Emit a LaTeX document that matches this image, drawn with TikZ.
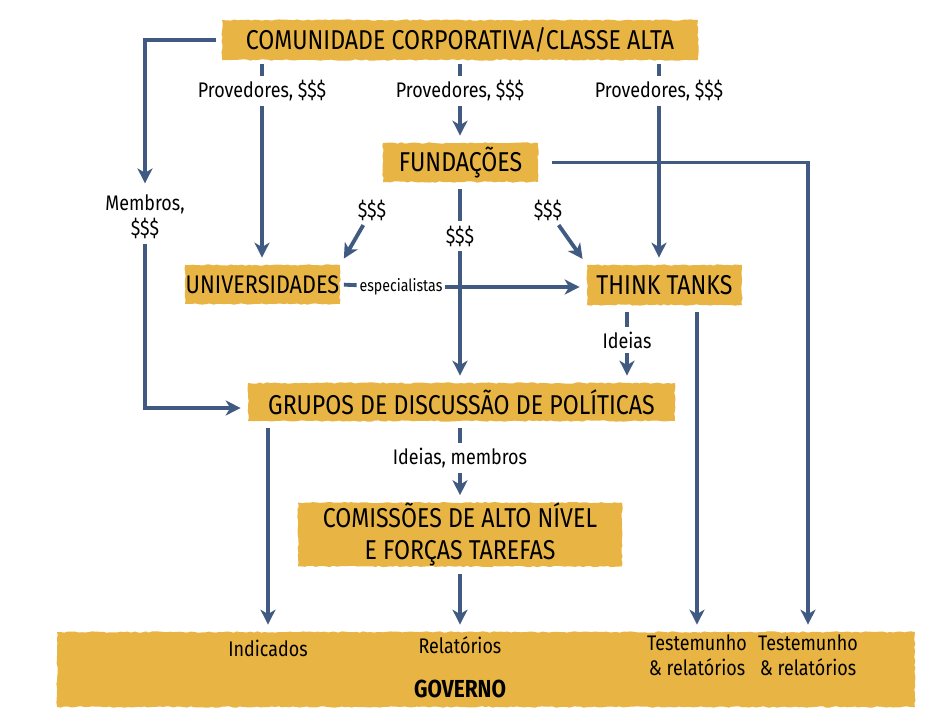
\documentclass[tikz,border=0pt]{standalone}
\usepackage{fontspec}
\setmainfont{Fira Sans}[FakeStretch=0.85]
\usepackage{tikz}
\usetikzlibrary{arrows.meta, positioning, calc, decorations.pathmorphing}

\definecolor{boxgold}{RGB}{232,180,67}
\definecolor{flowblue}{RGB}{64,90,130}

\begin{document}
\begin{tikzpicture}
            [x=0.02cm, y=-0.02cm,
            >={Stealth[length=8.5pt, width=8.5pt, inset=2.5pt]},
            box/.style={rectangle, fill=boxgold, inner sep=0pt, align=center,
                font=\fontsize{15.5}{18.5}\selectfont,
                decorate, decoration={random steps, segment length=2pt, amplitude=0.4pt}},
            lbl/.style={inner sep=2.5pt, align=center, font=\fontsize{12}{14}\selectfont},
            flow/.style={draw=flowblue, line width=2.2pt},
            arr/.style={flow, ->, shorten >=4pt}]
            \useasboundingbox (0,0) rectangle (950,725);

            \node[box, minimum width=17.16cm, minimum height=1.5cm]  (gov)    at (486,669.5) {};
            \node[box, minimum width=9.52cm, minimum height=0.8cm]   (com)    at (460,40)    {COMUNIDADE CORPORATIVA/CLASSE ALTA};
            \node[box, minimum width=3.1cm, minimum height=0.78cm]   (fund)   at (460.5,162.5) {FUNDAÇÕES};
            \node[box, minimum width=3.1cm, minimum height=0.78cm, font=\fontsize{14.5}{17}\selectfont]   (univ)   at (262.5,284.5) {UNIVERSIDADES};
            \node[box, minimum width=3.1cm, minimum height=0.8cm]    (tt)     at (664.5,285) {THINK TANKS};
            \node[box, minimum width=8.54cm, minimum height=0.76cm]  (grupos) at (461.5,402) {GRUPOS DE DISCUSSÃO DE POLÍTICAS};
            \node[box, minimum width=6.48cm, minimum height=1.26cm]  (comis)  at (460,534.5) {COMISSÕES DE ALTO NÍVEL\\E FORÇAS TAREFAS};

            \node[lbl]  (prov1)  at (262,91)  {Provedores, \$\$\$};
            \node[lbl]  (prov2)  at (460,91)  {Provedores, \$\$\$};
            \node[lbl]  (prov3)  at (659,91)  {Provedores, \$\$\$};
            \node[lbl]  (memb)   at (145,217) {Membros,\\\$\$\$};
            \node[lbl]  (dinl)   at (372,210) {\$\$\$};
            \node[lbl]  (dinm)   at (460,236) {\$\$\$};
            \node[lbl]  (dinr)   at (548,210) {\$\$\$};
            \node[lbl, font=\fontsize{9.5}{11}\selectfont, inner sep=1.5pt]  (esp) at (401,287) {especialistas};
            \node[lbl]  (ideias) at (627,340) {Ideias};
            \node[lbl]  (idmem)  at (460,458) {Ideias, membros};

            \node[lbl]  (indic)  at (268,648) {Indicados};
            \node[lbl]  (relat)  at (460,645) {Relatórios};
            \node[lbl]  (test1)  at (697,655) {Testemunho\\\& relatórios};
            \node[lbl]  (test2)  at (808,655) {Testemunho\\\& relatórios};
            \node[lbl, font=\fontsize{14}{16}\selectfont\bfseries]  (govt) at (460,689) {GOVERNO};

            \draw[arr, shorten <=3pt] (com.west) -| (memb);
            \draw[arr] (memb) |- ([yshift=-3.4pt]grupos.west);
            \draw[flow, shorten <=2pt] (com.south -| prov1) -- (prov1);
            \draw[flow, shorten <=2pt] (com.south -| prov2) -- (prov2);
            \draw[flow, shorten <=2pt] (com.south -| prov3) -- (prov3);
            \draw[arr] (prov1) -- (prov1 |- univ.north);
            \draw[arr] (prov2) -- (prov2 |- fund.north);
            \draw[arr] (prov3) -- (prov3 |- tt.north);
            \draw[arr, shorten <=8pt] (fund.east) -| (gov.north -| test2);
            \draw[arr] (dinl) -- (univ.north east);
            \draw[arr] (dinr) -- (tt.north west);
            \draw[flow, shorten <=4pt] (fund.south -| dinm) -- (dinm);
            \draw[arr] (dinm) -- (dinm |- grupos.north);
            \draw[flow, shorten <=2pt] (univ.east) -- (esp);
            \draw[arr] (esp) -- (tt.west |- esp);
            \draw[flow, shorten <=4pt] (tt.south -| ideias) -- (ideias);
            \draw[arr] (ideias) -- (ideias |- grupos.north);
            \draw[arr, shorten <=4pt] (tt.south -| test1) -- (gov.north -| test1);
            \draw[arr, shorten <=4pt] (grupos.south -| indic) -- (gov.north -| indic);
            \draw[flow, shorten <=4pt] (grupos.south -| idmem) -- (idmem);
            \draw[arr] (idmem) -- (idmem |- comis.north);
            \draw[arr, shorten <=4pt] (comis.south -| relat) -- (gov.north -| relat);
        \end{tikzpicture}
\end{document}
